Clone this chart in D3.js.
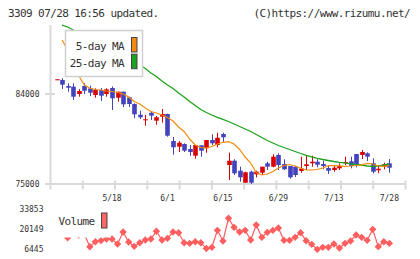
<!DOCTYPE html>
<html>
<head>
<meta charset="utf-8">
<script src="https://cdn.jsdelivr.net/npm/d3@7"></script>
<style>
  body { margin: 0; background: #fff; }
  svg { display: block; font-family: "DejaVu Sans Mono", monospace; }
</style>
</head>
<body>
<svg id="chart" width="420" height="259"></svg>
<script>
// daily candles, oldest first (61 trading days)
const openP = [85400,85400,84800,84730,84000,84800,84570,83900,84400,84000,84600,83630,84230,83670,83000,81930,81400,82130,81330,81730,82000,79300,78730,79000,78500,77830,78870,78570,79400,78900,80000,76900,77330,76330,75130,76230,75970,76130,77070,76730,77900,77000,76800,76730,76300,76800,77070,77230,77000,76600,76400,76570,77070,77270,78000,77900,78070,77070,76370,76730,77070];
const highP = [85470,85570,85070,85070,84500,85070,84830,84570,84600,84570,84750,84230,84230,83730,83070,82330,81900,82270,81800,82500,82030,79700,79300,79070,78900,78900,78870,79400,79970,80130,80130,78130,77470,76730,76230,76330,76330,76730,77230,77970,78070,77470,76800,76800,77730,77870,77830,77470,77330,76800,76900,77070,77730,77730,78000,78400,78170,77570,76900,77130,77500];
const lowP = [85400,84500,84230,83400,83730,84000,83800,83630,83300,83730,82400,83230,82700,82700,81570,81500,80830,81400,80930,81130,79730,77930,78200,78200,77830,77530,77730,78130,78900,78670,79170,75400,75900,75230,75130,75000,75670,75900,76400,76670,76400,76400,75530,75700,76130,76400,76730,76670,76470,76000,76230,76400,76900,76570,76670,77500,77300,76070,76070,76470,76130];
const closeP = [85470,84930,84630,83730,84300,84330,84130,84400,83830,84470,83570,84230,82970,83000,81970,81670,81470,81830,81670,82000,79830,78670,79130,78330,78200,78900,78330,79400,79070,79630,79670,77330,76070,75670,76170,75130,76230,76730,76730,77730,76900,76470,75670,75900,76550,76970,77230,76930,76800,76330,76630,76800,77200,76800,76900,78200,77730,76230,76530,76970,76630];

// moving averages (null = not drawn)
const ma5 = [null,89400,88400,87100,85850,84900,84570,84450,84400,84300,84250,84150,84000,83700,83250,83000,82600,82250,82100,81900,81650,81300,80700,80250,79500,78900,78650,78600,78750,79000,79170,79230,79000,78450,77700,77100,76150,75900,76000,76250,76600,76850,76950,76800,76570,76400,76400,76450,76600,76830,76830,76820,76770,76800,76850,76920,77070,77000,76800,76770,76850];
const ma25 = [null,90880,90700,90400,90100,89800,89500,89200,88900,88650,88350,88050,87750,87450,87170,86900,86550,86100,85750,85300,84900,84550,84100,83700,83250,82850,82450,82150,81900,81670,81470,81250,81000,80750,80500,80250,79950,79650,79350,79100,78850,78650,78450,78250,78050,77870,77720,77570,77450,77350,77250,77170,77120,77020,76950,76900,76800,76770,76780,76900,77020];

const volume = [33853,24000,14300,19500,16200,16900,8200,11600,12300,13450,13450,10050,18210,11410,8485,10930,12770,13450,18690,12770,13925,18210,17730,10930,10525,11610,10930,6990,7805,19365,12090,27530,21405,18210,19365,12770,22970,14605,18005,19365,20930,12565,12565,14605,17730,12290,9845,6445,7805,7805,10050,7330,10525,12090,16170,14605,12565,20045,8213,11610,10525];

const dateTicks = [10, 20, 30, 40, 50, 60];
const dateLabels = ["5/18", "6/1", "6/15", "6/29", "7/13", "7/28"];
const priceTicks = [84000, 75000];
const volTicks = [33853, 20149, 6445];

const upColor = "#d80000";
const downColor = "#4343be";
const ma5Color = "#f08c10";
const ma25Color = "#1ca21c";
const volColor = "#ff5e5e";
const axisColor = "#d9d9d9";
const textColor = "#333";

const svg = d3.select("#chart");

const x = d3.scaleLinear().domain([-1, 63]).range([51, 406]);
const yPrice = d3.scaleLinear().domain([75000, 84000]).range([184, 94]);
const yVol = d3.scaleLinear().domain([6445, 33853]).range([249.3, 209]);
const grid = d3.scaleLinear().domain([0, 11]).range([50.5, 405.5]);

const candles = d3.range(openP.length).map(i => ({
  i, o: openP[i], h: highP[i], l: lowP[i], c: closeP[i]
}));

// header texts
svg.append("text")
  .attr("x", 8).attr("y", 16.5)
  .style("font-size", "11px").style("letter-spacing", "-0.6px")
  .style("fill", textColor)
  .text("3309 07/28 16:56 updated.");

svg.append("text")
  .attr("x", 410).attr("y", 16.5)
  .attr("text-anchor", "end")
  .style("font-size", "11px").style("letter-spacing", "-0.6px")
  .style("fill", textColor)
  .text("(C)https://www.rizumu.net/");

// axes
const axes = svg.append("g").attr("class", "axes")
  .style("stroke", axisColor).style("stroke-width", 2);

axes.append("line")
  .attr("x1", grid(0)).attr("x2", grid(0))
  .attr("y1", 25).attr("y2", 189.5);

axes.append("line")
  .attr("x1", 45).attr("x2", grid(11))
  .attr("y1", yPrice(75000)).attr("y2", yPrice(75000));

axes.selectAll("line.xtick")
  .data(d3.range(1, 12))
  .enter()
  .append("line")
  .attr("class", "xtick")
  .attr("x1", d => grid(d)).attr("x2", d => grid(d))
  .attr("y1", 180.5).attr("y2", 189.5);

axes.selectAll("line.ytick")
  .data(priceTicks)
  .enter()
  .append("line")
  .attr("class", "ytick")
  .attr("x1", 45).attr("x2", 55)
  .attr("y1", d => yPrice(d)).attr("y2", d => yPrice(d));

svg.selectAll("text.plabel")
  .data(priceTicks)
  .enter()
  .append("text")
  .attr("class", "plabel")
  .attr("x", 39.5)
  .attr("y", d => yPrice(d) + 3)
  .attr("text-anchor", "end")
  .style("font-size", "8px")
  .style("fill", textColor)
  .text(d => d);

svg.selectAll("text.dlabel")
  .data(dateTicks)
  .enter()
  .append("text")
  .attr("class", "dlabel")
  .attr("x", (d, k) => x(d))
  .attr("y", 201)
  .attr("text-anchor", "middle")
  .style("font-size", "8px")
  .style("fill", textColor)
  .text((d, k) => dateLabels[k]);

// candles
const bodyW = 4.6;
const cg = svg.append("g").attr("class", "candles");

cg.selectAll("line")
  .data(candles)
  .enter()
  .append("line")
  .attr("x1", d => Math.round(x(d.i)) + 0.5)
  .attr("x2", d => Math.round(x(d.i)) + 0.5)
  .attr("y1", d => yPrice(d.h))
  .attr("y2", d => yPrice(d.l))
  .style("stroke", d => d.c >= d.o ? upColor : downColor)
  .style("stroke-width", 1);

cg.selectAll("rect")
  .data(candles)
  .enter()
  .append("rect")
  .attr("x", d => Math.round(x(d.i)) + 0.5 - bodyW / 2)
  .attr("width", bodyW)
  .attr("y", d => yPrice(Math.max(d.o, d.c)))
  .attr("height", d => Math.max(1, Math.abs(yPrice(d.o) - yPrice(d.c))))
  .style("fill", d => d.c >= d.o ? upColor : downColor);

// moving averages
const maLine = arr => d3.line()
  .defined(i => arr[i] != null)
  .x(i => x(i))
  .y(i => yPrice(arr[i]));

svg.append("path")
  .attr("d", maLine(ma25)(d3.range(ma25.length)))
  .style("fill", "none").style("stroke", ma25Color).style("stroke-width", 1.3);

svg.append("path")
  .attr("d", maLine(ma5)(d3.range(ma5.length)))
  .style("fill", "none").style("stroke", ma5Color).style("stroke-width", 1.2);

// legend for the MAs
const leg = svg.append("g").attr("class", "legend");
leg.append("rect")
  .attr("x", 65.5).attr("y", 30.5).attr("width", 77).attr("height", 46)
  .style("fill", "#fff").style("stroke", "#d0d0d0").style("stroke-width", 1.5);

const legItems = [["5-day MA", ma5Color], ["25-day MA", ma25Color]];
legItems.forEach(([name, col], k) => {
  leg.append("text")
    .attr("x", 124).attr("y", 50 + k * 16.7)
    .attr("text-anchor", "end")
    .style("font-size", "11px").style("letter-spacing", "-0.6px")
    .style("fill", textColor)
    .text(name);
  leg.append("rect")
    .attr("x", 131.5).attr("y", 37.5 + k * 16.7)
    .attr("width", 5.5).attr("height", 14.5)
    .style("fill", col).style("stroke", "#444").style("stroke-width", 1);
});

// volume panel
svg.selectAll("text.vlabel")
  .data(volTicks)
  .enter()
  .append("text")
  .attr("class", "vlabel")
  .attr("x", 43.5)
  .attr("y", d => yVol(d) + 3)
  .attr("text-anchor", "end")
  .style("font-size", "8px")
  .style("fill", textColor)
  .text(d => d);

const vg = svg.append("g").attr("class", "volume");

vg.append("path")
  .attr("d", d3.line().x((d, i) => x(i)).y(d => yVol(d))(volume))
  .style("fill", "none").style("stroke", volColor).style("stroke-width", 1.2);

vg.selectAll("path.dot")
  .data(volume)
  .enter()
  .append("path")
  .attr("class", "dot")
  .attr("d", d3.symbol(d3.symbolSquare, 27))
  .attr("transform", (d, i) => "translate(" + x(i) + "," + yVol(d) + ") rotate(45)")
  .style("fill", volColor);

// the volume legend sits on a white box that hides the first points
const vleg = svg.append("g");
vleg.append("rect")
  .attr("x", 52).attr("y", 204).attr("width", 59).attr("height", 33.5)
  .style("fill", "#fff");
vleg.append("text")
  .attr("x", 58.5).attr("y", 225)
  .style("font-size", "11px").style("letter-spacing", "-0.6px")
  .style("fill", textColor)
  .text("Volume");
vleg.append("rect")
  .attr("x", 101.5).attr("y", 213).attr("width", 5.5).attr("height", 15)
  .style("fill", "#ff6666").style("stroke", "#444").style("stroke-width", 1);
</script>
</body>
</html>
